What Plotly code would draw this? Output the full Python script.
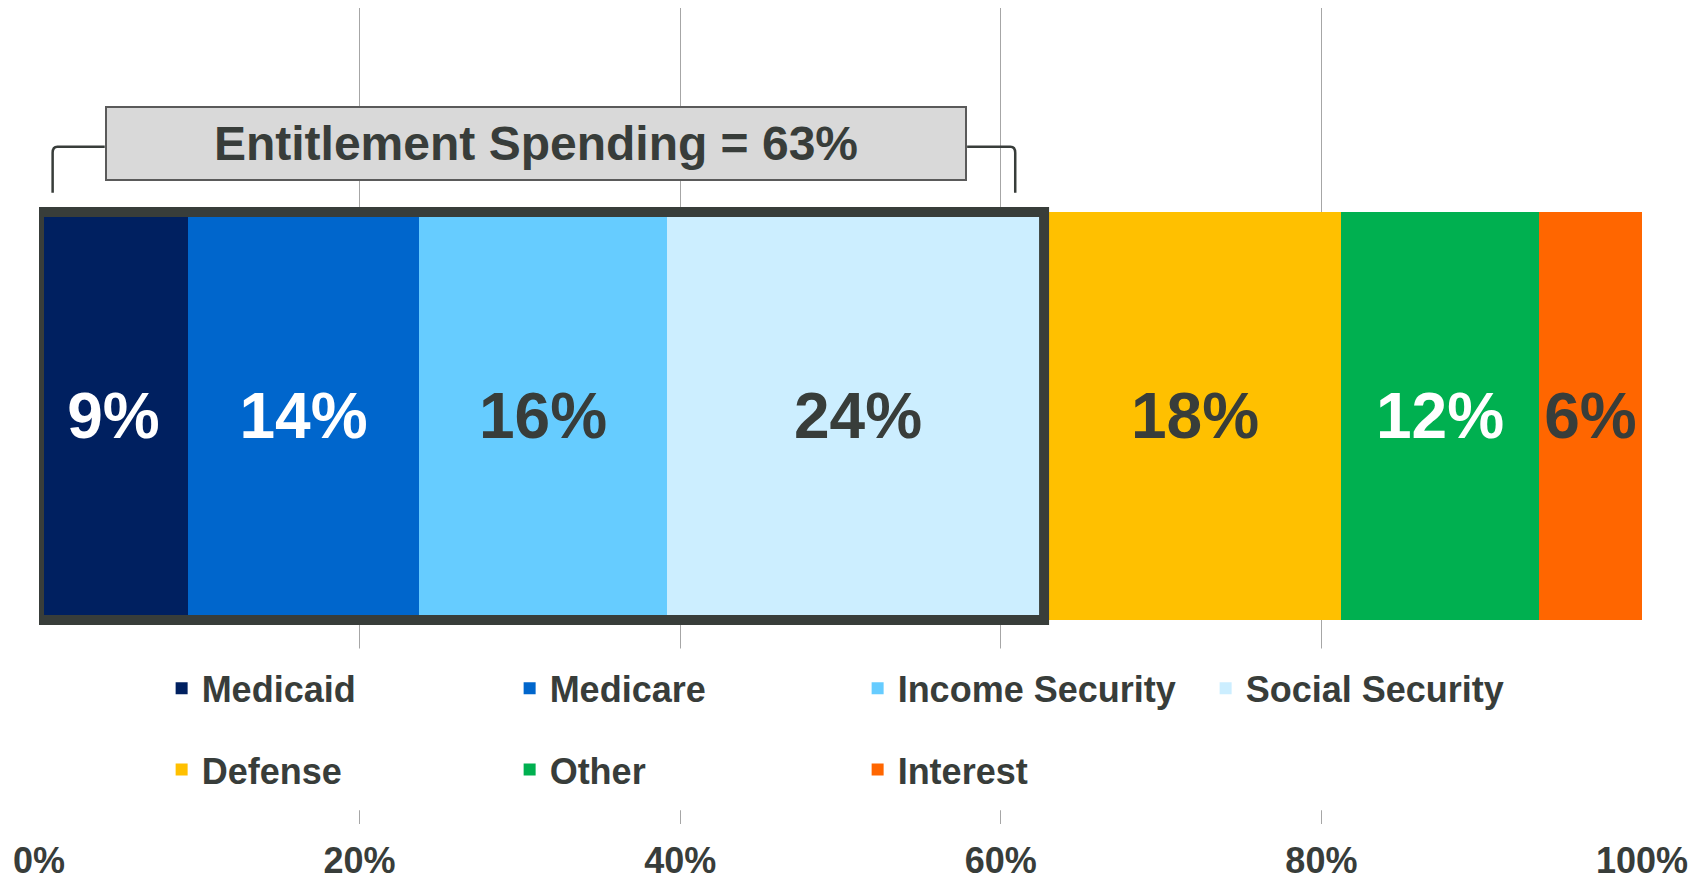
import plotly.graph_objects as go

# ---- data ----
categories = ["Medicaid", "Medicare", "Income Security", "Social Security", "Defense", "Other", "Interest"]
shares = [9.3, 14.4, 15.5, 23.8, 18.2, 12.4, 6.4]
colors = ["#002060", "#0066cc", "#66ccff", "#cceeff", "#ffc000", "#00b050", "#ff6600"]
label_colors = ["#ffffff", "#ffffff", "#383d3a", "#383d3a", "#383d3a", "#ffffff", "#383d3a"]
legend_ids = ["legend", "legend", "legend", "legend", "legend2", "legend2", "legend2"]
tick_values = [0, 20, 40, 60, 80, 100]
entitlement_text = "Entitlement Spending = 63%"
entitlement_end = 62.7

FONT = "Arial, 'Liberation Sans', sans-serif"
DARK = "#383d3a"

fig = go.Figure()
for cat, v, c, lc, lg in zip(categories, shares, colors, label_colors, legend_ids):
    fig.add_trace(go.Bar(
        x=[v], y=[0], orientation="h", name=cat, width=1,
        marker=dict(color=c, line=dict(width=0)),
        texttemplate="<b>%{x:.0f}%</b>", textposition="inside",
        insidetextanchor="middle", constraintext="none", textangle=0,
        textfont=dict(family=FONT, size=64, color=lc),
        legend=lg, hoverinfo="skip",
    ))

shapes = [
    # white band behind the legend (hides gridlines)
    dict(type="rect", xref="paper", yref="paper", x0=0.008, x1=0.992, y0=0.017, y1=0.215,
         fillcolor="white", line=dict(width=0), layer="above"),
    # entitlement box around the first four segments
    dict(type="rect", xref="x", yref="y", x0=0, x1=entitlement_end, y0=-0.5, y1=0.5,
         line=dict(color=DARK, width=10), fillcolor="rgba(0,0,0,0)", layer="above"),
    # bracket
    dict(type="path", xref="x", yref="y",
         path="M 0.85,0.547 L 0.85,0.645 Q 0.85,0.66 1.15,0.66 L 4.1,0.66",
         line=dict(color=DARK, width=2.5), layer="above"),
    dict(type="path", xref="x", yref="y",
         path="M 57.9,0.66 L 60.6,0.66 Q 60.9,0.66 60.9,0.645 L 60.9,0.547",
         line=dict(color=DARK, width=2.5), layer="above"),
]

legend_font = dict(family=FONT, size=36, color=DARK, weight="bold")

fig.update_layout(
    width=1696, height=876,
    margin=dict(l=31, r=62, t=0, b=60),
    paper_bgcolor="white", plot_bgcolor="white",
    barmode="stack", bargap=0,
    font=dict(family=FONT, color=DARK),
    shapes=shapes,
    showlegend=True,
    legend=dict(orientation="h", x=0.0765, xanchor="left", y=0.1663, yanchor="middle",
                entrywidth=303, entrywidthmode="pixels", bgcolor="rgba(0,0,0,0)",
                font=legend_font, traceorder="normal"),
    legend2=dict(orientation="h", x=0.0765, xanchor="left", y=0.0667, yanchor="middle",
                 entrywidth=303, entrywidthmode="pixels", bgcolor="rgba(0,0,0,0)",
                 font=legend_font, traceorder="normal"),
    xaxis=dict(range=[0, 100], tickvals=tick_values, ticktext=[f"<b>{t}%</b>" for t in tick_values],
               showgrid=True, gridcolor="#a6a6a6", gridwidth=1, zeroline=False, showline=False,
               ticks="outside", ticklen=5, tickcolor="rgba(0,0,0,0)",
               tickfont=dict(family=FONT, size=36, color=DARK), automargin=False, fixedrange=True),
    yaxis=dict(range=[-1.0, 1.0], showgrid=False, zeroline=False, showticklabels=False,
               showline=False, automargin=False, fixedrange=True),
    annotations=[dict(
        x=31.0, y=0.667, xref="x", yref="y", text=f"<b>{entitlement_text}</b>", showarrow=False,
        font=dict(family=FONT, size=48, color=DARK), bgcolor="#d9d9d9",
        bordercolor="#5a5a5a", borderwidth=2, borderpad=0, width=858, height=71,
        xanchor="center", yanchor="middle",
    )],
)

fig.write_html("out.html")
